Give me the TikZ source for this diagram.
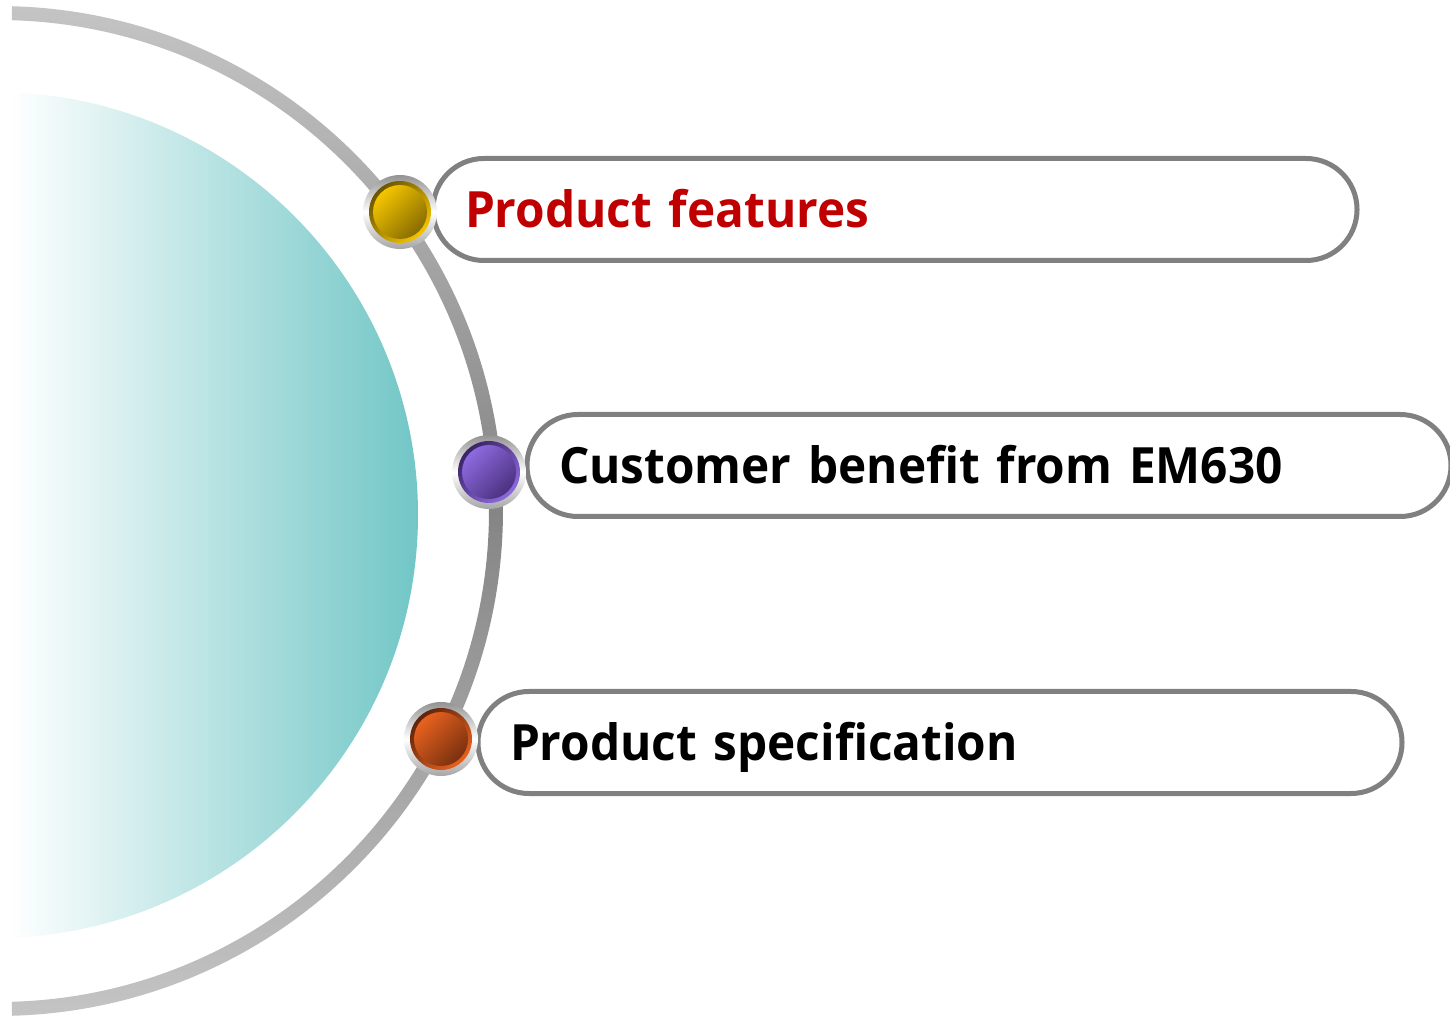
\documentclass[tikz,border=0pt]{standalone}
\usepackage{fontspec}
\setmainfont[FakeStretch=0.955]{Open Sans}
\usepackage{tikz}
\definecolor{teal1}{HTML}{6FC5C5}
\definecolor{arcl}{HTML}{C4C4C4}
\definecolor{arcd}{HTML}{858585}
\definecolor{redtxt}{HTML}{C00000}
\definecolor{yelD}{HTML}{6B5500}
\definecolor{yelL}{HTML}{F5C500}
\definecolor{purD}{HTML}{3A2466}
\definecolor{purL}{HTML}{8E6AE0}
\definecolor{oraD}{HTML}{5E240C}
\definecolor{oraL}{HTML}{E8621F}
\tikzset{
  pill/.style={draw=gray, line width=5pt, fill=white, rounded corners=50.9pt,
    minimum width=924pt, minimum height=102pt, anchor=west, inner xsep=32pt,
    text width=860pt, align=left, text height=36pt, text depth=0pt,
    font=\bfseries\fontsize{50}{58}\selectfont},
  ring/.style={circle, minimum size=74pt, inner sep=0pt,
    top color=gray!85, bottom color=gray!70, middle color=white},
  rim/.style 2 args={circle, minimum size=62pt, inner sep=0pt,
    top color=#1, bottom color=#2, shading angle=45},
  dot/.style 2 args={circle, minimum size=54pt, inner sep=0pt,
    top color=#2, bottom color=#1, shading angle=45}
}
\begin{document}
\begin{tikzpicture}[x=1pt,y=1pt]
\useasboundingbox (0,0) rectangle (1450,1015);
% grey arc
\begin{scope}[shift={(-2,504)}]
\shade[top color=arcl, bottom color=arcl, middle color=arcd]
  (88.41:505) arc[start angle=88.41, end angle=-88.41, radius=505]
  -- (-88.37:491) arc[start angle=-88.37, end angle=88.37, radius=491] -- cycle;
\end{scope}
% teal half disk
\begin{scope}[shift={(-5,500)}]
\shade[left color=white, right color=teal1]
  (87.97:423) arc[start angle=87.97, end angle=-87.97, radius=423] -- cycle;
\end{scope}
% the three items
\node[pill, text=redtxt] (feat) at (430.5,805.5) {Product features};
\node[pill] (benefit) at (524.5,549.5) {Customer benefit from EM630};
\node[pill] (spec) at (475.5,272.5) {Product specification};
% knobs
\foreach \n/\p/\c in {k1/{400,803}/yel, k2/{489,543}/pur, k3/{441,276}/ora}{
  \node[ring] (\n) at (\p) {};
  \node[rim={\c D}{\c L}] (\n r) at (\n) {};
  \node[dot={\c D!80!\c L}{\c L}] (\n d) at (\n) {};
}
\end{tikzpicture}
\end{document}
